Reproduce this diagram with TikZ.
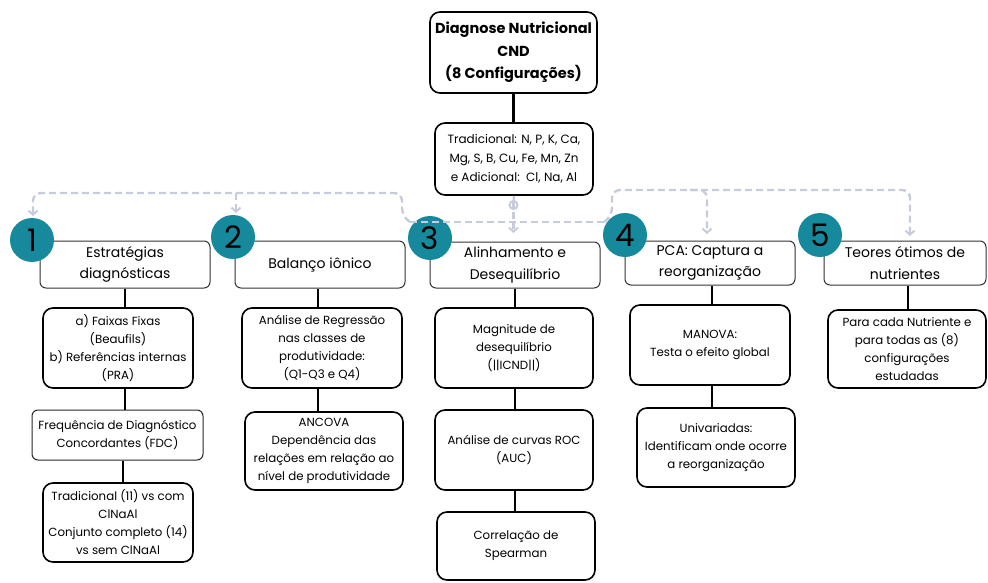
\documentclass[tikz,border=0pt]{standalone}
\usepackage{fontspec}
\setmainfont{Poppins}
\usetikzlibrary{arrows.meta}
\definecolor{tealc}{RGB}{22,138,156}
\definecolor{dashc}{RGB}{198,204,220}
\begin{document}
\begin{tikzpicture}[x=1pt,y=-1pt]
\tikzset{
  box/.style={draw=black, line width=1.6pt, rounded corners=10pt, align=center,
    font=\fontsize{11.8}{18}\selectfont, inner sep=1pt},
  fbox/.style={draw=black!85, line width=1pt, rounded corners=6pt, align=center,
    font=\fontsize{11.8}{18}\selectfont, inner sep=1pt},
  hbox/.style={draw=black!80, line width=1pt, rounded corners=6pt, align=center,
    font=\fontsize{14}{21.5}\selectfont, inner sep=1pt},
  num/.style={circle, fill=tealc, minimum size=44pt, inner sep=0pt,
    font=\fontsize{31}{31}\selectfont},
  link/.style={line width=2.6pt},
  dlink/.style={draw=dashc, line width=2.4pt, dash pattern=on 7pt off 4pt, rounded corners=8pt},
  dtip/.style={-{Straight Barb[length=4pt,width=9pt,line width=2pt]}},
}
\useasboundingbox (0,0) rectangle (988,583);

% top
\node[box, font=\bfseries\fontsize{14.5}{22.5}\selectfont, minimum width=167pt, minimum height=81pt] (top) at (513.5,52.5)
  {Diagnose Nutricional\\CND\\(8 Configurações)};
\node[box, font=\fontsize{12}{19}\selectfont, minimum width=158pt, minimum height=72pt] (trad) at (514,159)
  {Tradicional: N, P, K, Ca,\\Mg, S, B, Cu, Fe, Mn, Zn\\e Adicional:\ \ Cl, Na, Al};
\draw[link] (top.south) -- (top.south |- trad.north);

% headers
\node[hbox, minimum width=170pt, minimum height=47pt] (h1) at (125,264.5) {Estratégias\\diagnósticas};
\node[hbox, minimum width=170pt, minimum height=47pt] (h2) at (320,264.5) {Balanço iônico};
\node[hbox, minimum width=170pt, minimum height=46pt] (h3) at (515,265) {Alinhamento e\\Desequilíbrio};
\node[hbox, minimum width=170pt, minimum height=44pt] (h4) at (710,263) {PCA: Captura a\\reorganização};
\node[hbox, minimum width=162pt, minimum height=44pt] (h5) at (905,263) {Teores ótimos de\\nutrientes};

\node[num] (n1) at (32,240) {1};
\node[num] (n2) at (233,237) {2};
\node[num] (n3) at (430,238) {3};
\node[num] (n4) at (625,235) {4};
\node[num] (n5) at (820,235) {5};

% column 1
\node[box, minimum width=150pt, minimum height=80pt] (a1) at (118,348)
  {a) Faixas Fixas\\(Beaufils)\\b) Referências internas\\(PRA)};
\node[fbox, minimum width=171pt, minimum height=50pt] (a2) at (117.5,435)
  {Frequência de Diagnóstico\\Concordantes (FDC)};
\node[box, minimum width=150pt, minimum height=79pt] (a3) at (118,522.5)
  {Tradicional (11) vs com\\ClNaAl\\Conjunto completo (14)\\vs sem ClNaAl};
\draw[link] (h1.south) -- (h1.south |- a1.north);
\draw[link] (h1.south |- a1.south) -- (h1.south |- a2.north);
\draw[link] ([xshift=-2pt]h1.south |- a2.south) -- ([xshift=-2pt]h1.south |- a3.north);

% column 2
\node[box, minimum width=160pt, minimum height=80pt] (b1) at (322,348)
  {Análise de Regressão\\nas classes de\\produtividade:\\(Q1-Q3 e Q4)};
\node[box, minimum width=158pt, minimum height=78pt] (b2) at (324,451)
  {ANCOVA\\Dependência das\\relações em relação ao\\nível de produtividade};
\draw[link] ([xshift=-2pt]h2.south) -- ([xshift=-2pt]h2.south |- b1.north);
\draw[link] ([xshift=-2pt]h2.south |- b1.south) -- ([xshift=-2pt]h2.south |- b2.north);

% column 3
\node[box, minimum width=158pt, minimum height=80pt] (d1) at (514,348)
  {Magnitude de\\desequilíbrio\\(||ICND||)};
\node[box, minimum width=158pt, minimum height=80pt] (d2) at (514,450)
  {Análise de curvas ROC\\(AUC)};
\node[box, minimum width=158pt, minimum height=68pt] (d3) at (516,546)
  {Correlação de\\Spearman};
\draw[link] (h3.south) -- (h3.south |- d1.north);
\draw[link] (h3.south |- d1.south) -- (h3.south |- d2.north);
\draw[link] (h3.south |- d2.south) -- (h3.south |- d3.north);

% column 4
\node[box, minimum width=160pt, minimum height=80pt] (e1) at (710,345)
  {MANOVA:\\Testa o efeito global};
\node[box, minimum width=158pt, minimum height=79pt] (e2) at (716,447.5)
  {Univariadas:\\Identificam onde ocorre\\a reorganização};
\draw[link] ([xshift=2pt]h4.south) -- ([xshift=2pt]h4.south |- e1.north);
\draw[link] ([xshift=2pt]h4.south |- e1.south) -- ([xshift=2pt]h4.south |- e2.north);

% column 5
\node[box, minimum width=158pt, minimum height=78pt] (f1) at (907,349)
  {Para cada Nutriente e\\para todas as (8)\\configurações\\estudadas};
\draw[link] ([xshift=3pt]h5.south) -- ([xshift=3pt]h5.south |- f1.north);

% dashed distribution
\coordinate (hub) at (513.5,205);
\coordinate (mid) at (513.5,222);
\coordinate (lm) at (410,222);
\coordinate (rm) at (604,222);
\draw[draw=dashc, line width=2pt] (hub) circle (4pt);
\draw[dashc, line width=2.4pt] (trad.south) -- ([yshift=-4pt]hub);
\draw[dlink] ([yshift=4pt]hub) -- (mid);
\draw[dlink] (lm) -- (rm);
\draw[dlink, dtip] (mid) -- (513.5,233);
\draw[dlink, dtip] (lm) -- (402,216) -- (402,193) -- (33,193) -- (33,216);
\draw[dlink, dtip] (236,193) -- (236,213);
\draw[dlink, dtip] (rm) -- (612,216) -- (612,190) -- (707,190) -- (707,234);
\draw[dlink, dtip] (690,190) -- (910,190) -- (910,236);
\end{tikzpicture}
\end{document}
